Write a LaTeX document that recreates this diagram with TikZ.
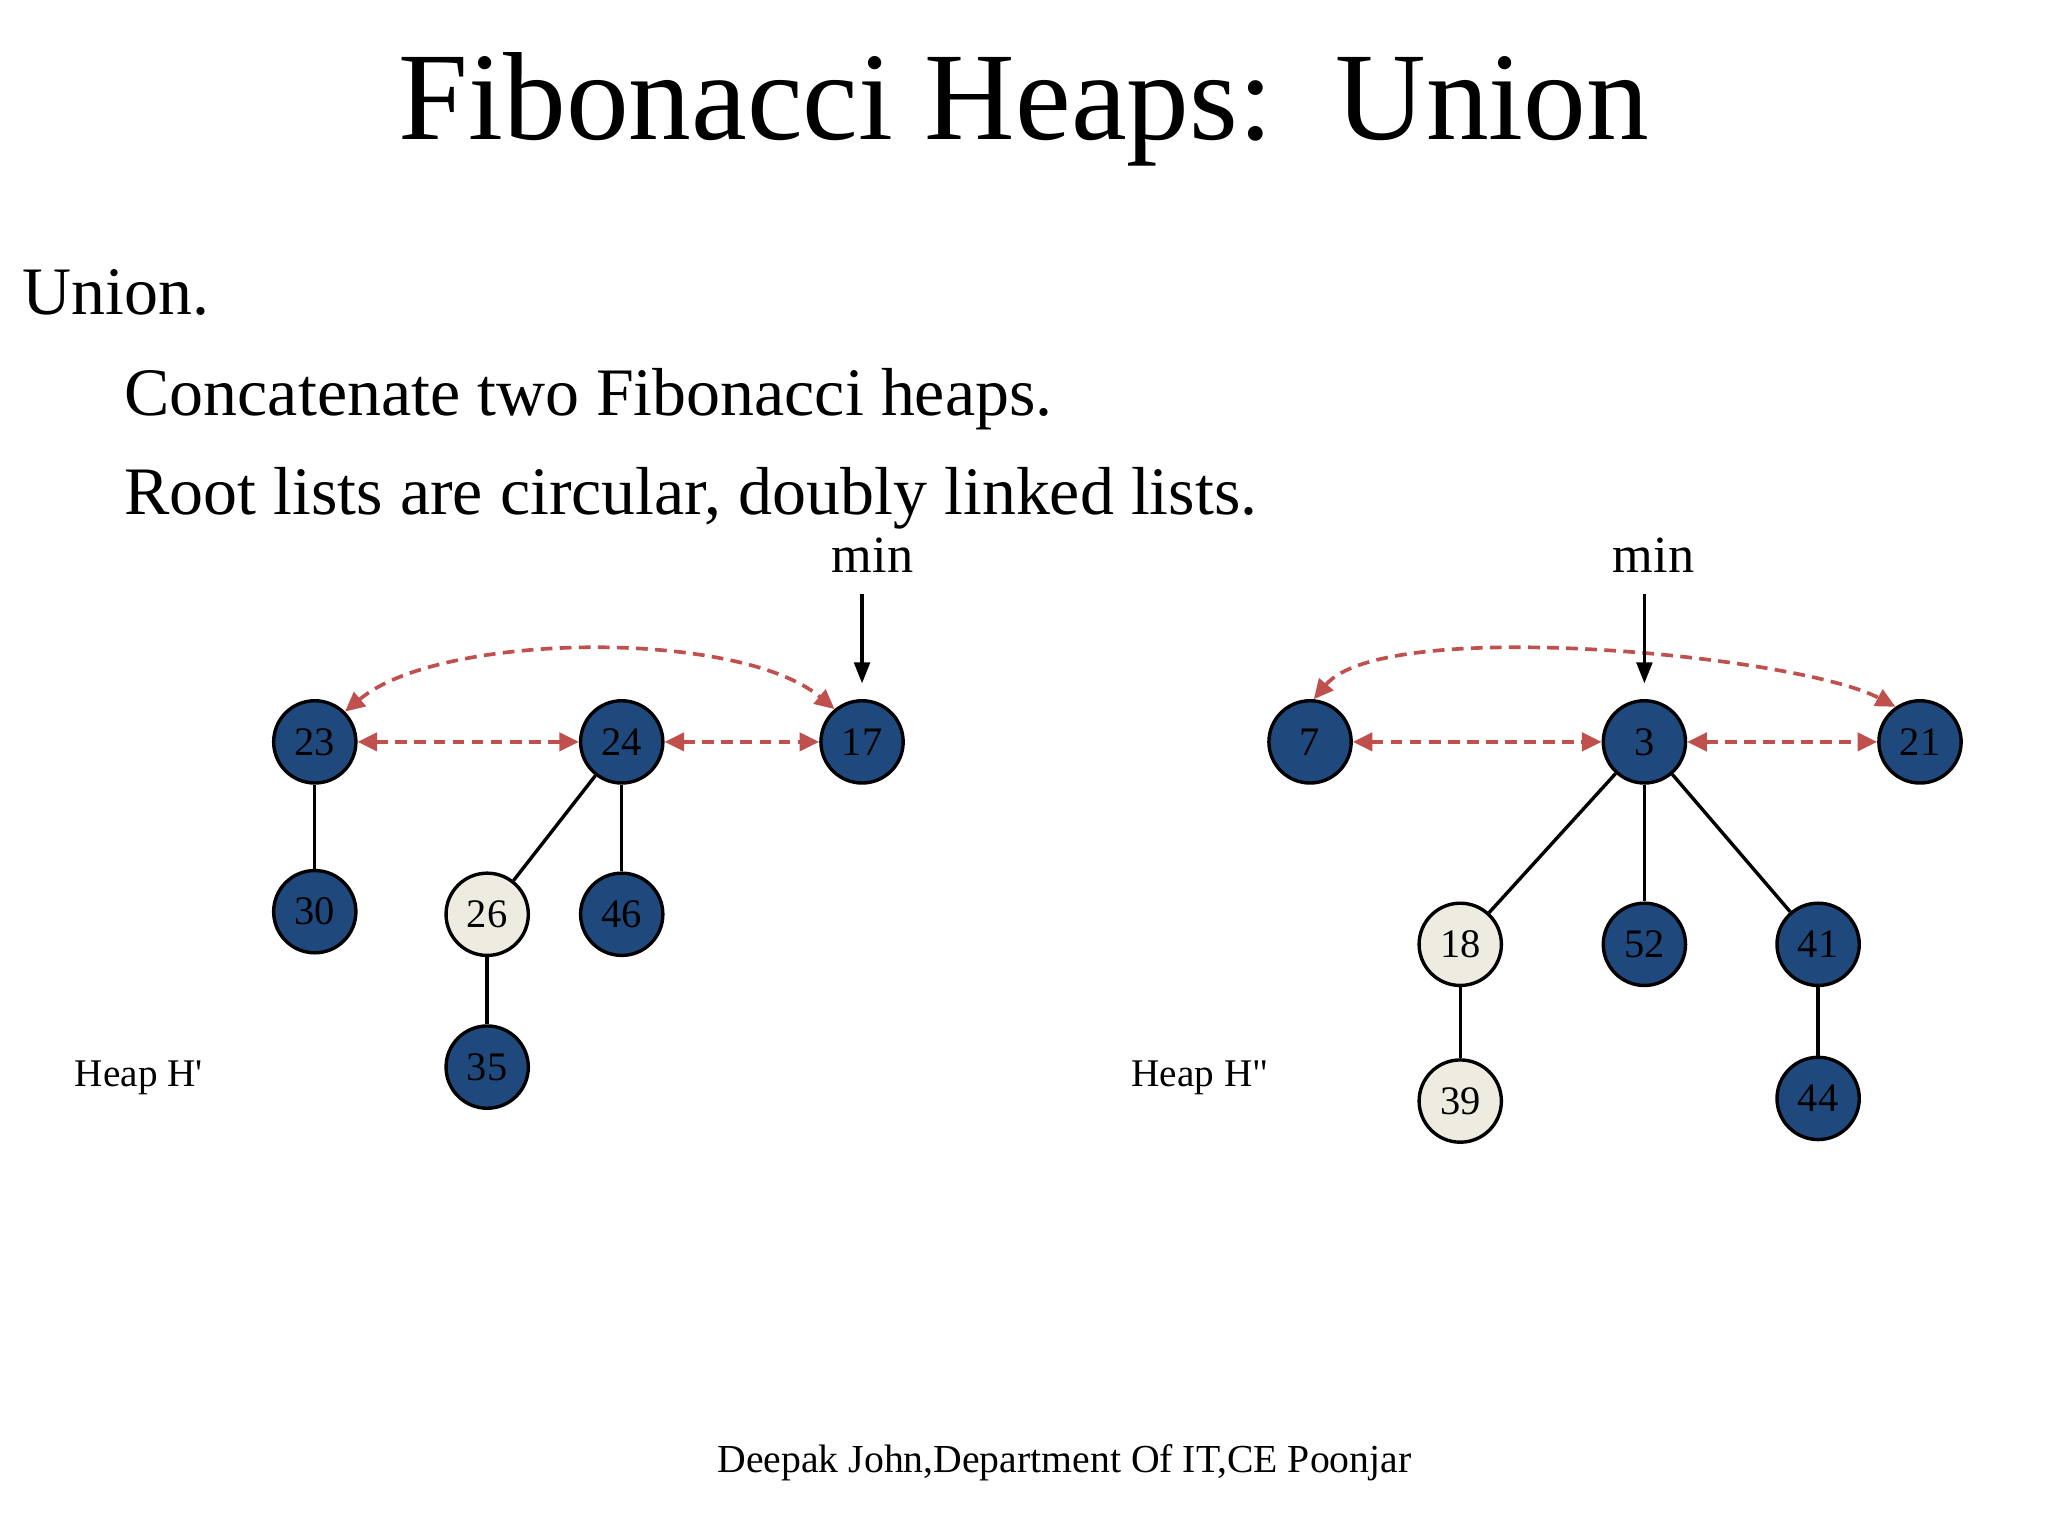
\documentclass[tikz,border=0pt]{standalone}
\usepackage{fontspec}
\setmainfont{Liberation Serif}[Ligatures=TeXOff]
\usetikzlibrary{arrows.meta}
\definecolor{nblue}{HTML}{1F497D}
\definecolor{nlight}{HTML}{EEECE1}
\definecolor{ared}{HTML}{C0504D}
\begin{document}
\begin{tikzpicture}[x=0.5pt,y=-0.5pt,
  hn/.style={circle,draw=black,line width=1.3pt,minimum size=31.5pt,inner sep=0pt,font=\fontsize{15.5}{15.5}\selectfont},
  dk/.style={hn,fill=nblue},
  lt/.style={hn,fill=nlight},
  treeedge/.style={line width=1.3pt},
  link/.style={ared,line width=1.4pt,dash pattern=on 4.5pt off 2.8pt,{Triangle[length=7.5pt,width=7pt]}-{Triangle[length=7.5pt,width=7pt]}},
  minarr/.style={line width=1.2pt,-{Triangle[length=8pt,width=6pt]}},
  txt/.style={inner sep=0pt,anchor=base west},
  ]
\useasboundingbox[fill=white] (0,0) rectangle (1568,1176);
% texts
\node[inner sep=0pt,anchor=base,font=\fontsize{48}{58}\selectfont] (title) at (784,107) {Fibonacci Heaps:\ \ Union};
\node[txt,font=\fontsize{26}{31}\selectfont] (l1) at (17,241) {Union.};
\node[txt,font=\fontsize{26}{31}\selectfont] (l2) at (95,318) {Concatenate two Fibonacci heaps.};
\node[txt,font=\fontsize{26}{31}\selectfont] (l3) at (95,394) {Root lists are circular, doubly linked lists.};
\node[inner sep=0pt,anchor=base,font=\fontsize{20}{24}\selectfont] (min1) at (668,438) {min};
\node[inner sep=0pt,anchor=base,font=\fontsize{20}{24}\selectfont] (min2) at (1266,438) {min};
\node[txt,font=\fontsize{15}{18}\selectfont] (h1) at (57,832) {Heap H'};
\node[txt,font=\fontsize{15}{18}\selectfont] (h2) at (866,832) {Heap H"};
\node[inner sep=0pt,anchor=base,font=\fontsize{15.2}{18}\selectfont] (foot) at (815,1127) {Deepak John,Department Of IT,CE Poonjar};
% heap H'
\node[dk] (n23) at (241,568) {23};
\node[dk] (n24) at (476,568) {24};
\node[dk] (n17) at (660,568) {17};
\node[dk] (n30) at (241,698) {30};
\node[lt] (n26) at (373,700) {26};
\node[dk] (n46) at (476,700) {46};
\node[dk] (n35) at (373,817) {35};
% heap H''
\node[dk] (n7) at (1003,568) {7};
\node[dk] (n3) at (1259,568) {3};
\node[dk] (n21) at (1470,568) {21};
\node[lt] (n18) at (1118,723) {18};
\node[dk] (n52) at (1259,723) {52};
\node[dk] (n41) at (1392,723) {41};
\node[lt] (n39) at (1118,843) {39};
\node[dk] (n44) at (1392,841) {44};
% tree edges
\draw[treeedge] (n23) -- (n30);
\draw[treeedge] (n24) -- (n26);
\draw[treeedge] (n24) -- (n46);
\draw[treeedge] (n26) -- (n35);
\draw[treeedge] (n3) -- (n18);
\draw[treeedge] (n3) -- (n52);
\draw[treeedge] (n3) -- (n41);
\draw[treeedge] (n18) -- (n39);
\draw[treeedge] (n41) -- (n44);
% root list links
\draw[link] (n23) -- (n24);
\draw[link] (n24) -- (n17);
\draw[link] (n23.45) to[out=40,in=140,looseness=0.65] (n17.130);
\draw[link] (n7) -- (n3);
\draw[link] (n3) -- (n21);
\draw[link] (n7.85) to[out=50,in=152,looseness=0.48] (n21.125);
% min pointers
\coordinate (m1) at (660,455);
\coordinate (m2) at (1259,455);
\draw[minarr] (m1) -- ([yshift=6pt]n17.north);
\draw[minarr] (m2) -- ([yshift=6pt]n3.north);
\end{tikzpicture}
\end{document}
